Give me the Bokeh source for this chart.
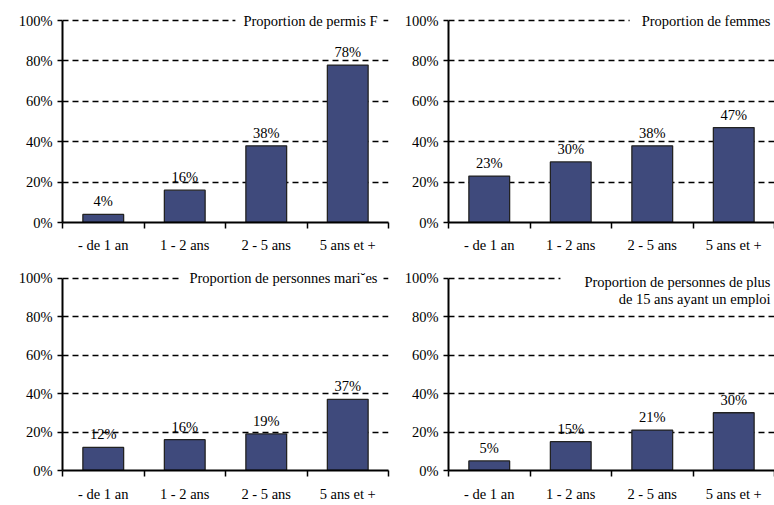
from bokeh.plotting import figure
from bokeh.models import (Range1d, FixedTicker, LinearAxis, Label, ColumnDataSource,
                          PrintfTickFormatter, Grid)
from bokeh.layouts import column, row
from bokeh.embed import file_html
from bokeh.resources import INLINE
from bokeh.core.properties import value

categories = ["- de 1 an", "1 - 2 ans", "2 - 5 ans", "5 ans et +"]
permis_f = [4, 16, 38, 78]
femmes = [23, 30, 38, 47]
maries = [12, 16, 19, 37]
emploi = [5, 15, 21, 30]
y_ticks = [0, 20, 40, 60, 80, 100]

FONT = "Liberation Serif"
FS = "14.5px"
BAR = "#3F4A7C"


def panel(values, titles, width, bl, br, height, bt, bb, standoff, title_off, pad_left, pad_right):
    p = figure(width=width, height=height, output_backend="svg", toolbar_location=None,
               x_range=Range1d(0, len(categories)), y_range=Range1d(0, 106),
               min_border_left=bl, min_border_right=br, min_border_top=bt,
               min_border_bottom=bb, x_axis_type=None, y_axis_type=None)
    p.outline_line_color = None
    p.background_fill_color = "white"
    p.border_fill_color = "white"
    xs = [i + 0.5 for i in range(len(categories))]
    src = ColumnDataSource(dict(x=xs, top=values, lab=[f"{v}%" for v in values]))
    # x axis: labels at category centres, ticks at category boundaries
    xa = LinearAxis(ticker=FixedTicker(ticks=xs, minor_ticks=list(range(len(categories) + 1))))
    xa.major_label_overrides = {x: c for x, c in zip(xs, categories)}
    xa.major_tick_line_color = None
    xa.major_tick_in = 0
    xa.major_tick_out = 0
    xa.minor_tick_in = 0
    xa.minor_tick_out = 6
    xa.minor_tick_line_width = 1.5
    xa.minor_tick_line_color = "black"
    xa.axis_line_width = 2
    xa.axis_line_color = "black"
    xa.major_label_standoff = standoff
    xa.major_label_text_font = FONT
    xa.major_label_text_font_size = FS
    xa.major_label_text_color = "black"
    p.add_layout(xa, "below")
    # y axis
    ya = LinearAxis(ticker=FixedTicker(ticks=y_ticks, minor_ticks=[]),
                    formatter=PrintfTickFormatter(format="%d%%"),
                    bounds=(y_ticks[0], y_ticks[-1]))
    ya.major_tick_in = 0
    ya.major_tick_out = 5
    ya.major_tick_line_width = 1.5
    ya.major_tick_line_color = "black"
    ya.axis_line_width = 2
    ya.axis_line_color = "black"
    ya.major_label_standoff = 5
    ya.major_label_text_font = FONT
    ya.major_label_text_font_size = FS
    ya.major_label_text_color = "black"
    p.add_layout(ya, "left")
    p.xgrid.visible = False
    p.ygrid.visible = False
    g = Grid(dimension=1, ticker=FixedTicker(ticks=y_ticks[1:]))
    g.grid_line_color = "black"
    g.grid_line_width = 1.5
    g.grid_line_dash = "6 4"
    p.add_layout(g)
    p.vbar(x="x", top="top", width=0.5, source=src, fill_color=BAR,
           line_color="#222222", line_width=1.3)
    p.text(x="x", y="top", text="lab", source=src, text_align="center",
           text_baseline="bottom", y_offset=-5, text_font=value(FONT),
           text_font_size=value(FS), text_color="black")
    for k, t in enumerate(titles):
        yo = -(4 + 17 * k) if len(titles) > 1 else 0
        if k == 0:
            pad = dict(left=pad_left, right=pad_right, top=2, bottom=2)
            bg = "white"
        else:
            pad = dict(left=0, right=pad_right, top=0, bottom=0)
            bg = None
        lab = Label(x=len(categories), y=y_ticks[-1], text=t, text_align="right",
                    text_baseline="middle", x_offset=title_off, y_offset=yo,
                    text_font=FONT, text_font_size=FS, text_color="black",
                    background_fill_color=bg, padding=pad)
        p.add_layout(lab)
    return p


f1 = panel(permis_f, ["Proportion de permis F"], 390, 62, 2, 265, 8, 43, 8, -5, 8, 6)
f2 = panel(femmes, ["Proportion de femmes"], 384, 58, 0, 265, 8, 43, 8, 0, 12, 4)
f3 = panel(maries, ["Proportion de personnes mari\u02d8es"], 390, 62, 2, 239, 1, 26, 9, -5, 8, 6)
f4 = panel(emploi, ["Proportion de personnes de plus", "de 15 ans ayant un emploi"],
           384, 58, 0, 239, 1, 26, 9, 0, 24, 4)

layout = column(row(f1, f2, spacing=0), row(f3, f4, spacing=0), spacing=0)
open("out.html", "w").write(file_html(layout, INLINE))
